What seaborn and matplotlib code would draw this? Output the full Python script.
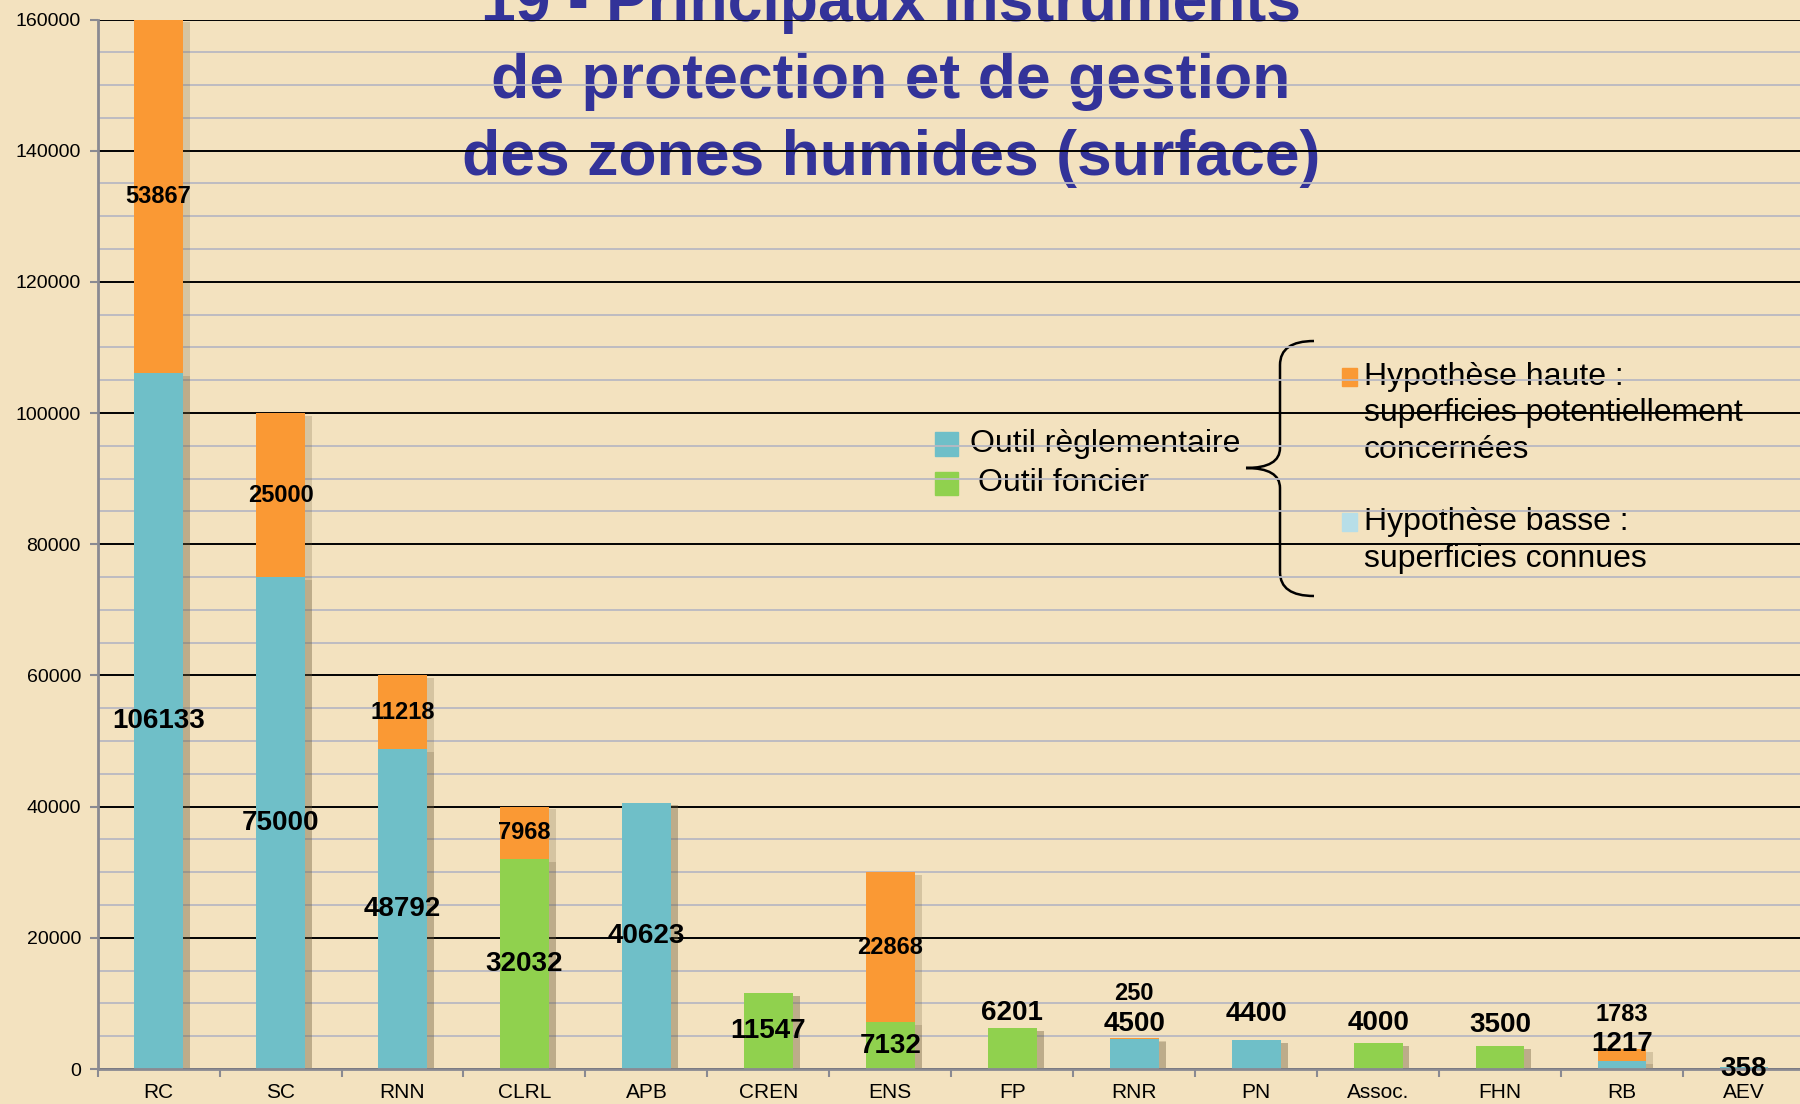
import matplotlib
matplotlib.use('Agg')
import matplotlib.pyplot as plt
import matplotlib.patheffects as pe
from matplotlib.patches import Rectangle, PathPatch
from matplotlib.path import Path
from matplotlib.ticker import MultipleLocator, FuncFormatter
import seaborn as sns

# données
categories = ['RC', 'SC', 'RNN', 'CLRL', 'APB', 'CREN', 'ENS', 'FP', 'RNR', 'PN',
              'Assoc.', 'FHN', 'RB', 'AEV']
basse = [106133, 75000, 48792, 32032, 40623, 11547, 7132, 6201, 4500, 4400,
         4000, 3500, 1217, 358]
haute = [53867, 25000, 11218, 7968, 0, 0, 22868, 0, 250, 0, 0, 0, 1783, 0]
outil = ['règlementaire', 'règlementaire', 'règlementaire', 'foncier', 'règlementaire',
         'foncier', 'foncier', 'foncier', 'règlementaire', 'règlementaire',
         'foncier', 'foncier', 'règlementaire', 'règlementaire']
title_lines = ['19 - Principaux instruments', 'de protection et de gestion',
               'des zones humides (surface)']

total = [b + h for b, h in zip(basse, haute)]

TEAL = '#6fbfc8'
GREEN = '#90d14e'
ORANGE = '#fa9934'
LIGHT = '#b7dee8'
BG = '#f3e2bf'
TITLE = '#333399'

plt.rcParams['font.family'] = ['Liberation Sans', 'DejaVu Sans']

W, H = 1800, 1104
fig = plt.figure(figsize=(18, 11.04), dpi=100, facecolor=BG)


def F(x, y):
    return (x / W, 1 - y / H)


ax = fig.add_axes([97.6 / W, 1 - 1069 / H, (1805 - 97.6) / W, (1069 - 19.5) / H])
ax.set_facecolor('none')

sns.barplot(x=categories, y=total, color=ORANGE, width=0.4, saturation=1, ax=ax)
sns.barplot(x=categories, y=basse, hue=outil, dodge=False, width=0.4, saturation=1,
            palette={'règlementaire': TEAL, 'foncier': GREEN}, legend=False, ax=ax)

for p in ax.patches:
    p.set_path_effects([pe.SimplePatchShadow(offset=(5, -2), shadow_rgbFace='#6b5a3a',
                                             alpha=0.22), pe.Normal()])

ax.set_xlim(-0.5, 13.5)
ax.set_ylim(0, 160000)
ax.set_xlabel('')
ax.set_ylabel('')

ax.set_axisbelow(True)
ax.yaxis.set_major_locator(MultipleLocator(20000))
ax.yaxis.set_minor_locator(MultipleLocator(5000))
ax.yaxis.set_major_formatter(FuncFormatter(lambda v, _: f'{int(v)}'))
ax.grid(which='minor', axis='y', color='#b9b9c2', lw=1.3)
ax.grid(which='major', axis='y', color='black', lw=1.4)
ax.grid(which='both', axis='x', visible=False)

ax.set_xticks([i + 0.5 for i in range(-1, 14)], minor=True)
ax.tick_params(axis='x', which='major', length=0, pad=10, labelsize=15)
ax.tick_params(axis='x', which='minor', length=6, width=1.5, color='#8a8a92')
ax.tick_params(axis='y', which='major', length=6, width=1.5, color='#8a8a92',
               pad=6, labelsize=14)
ax.tick_params(axis='y', which='minor', length=0)
for s in ['top', 'right']:
    ax.spines[s].set_visible(False)
for s in ['left', 'bottom']:
    ax.spines[s].set_color('#8a8a92')
    ax.spines[s].set_linewidth(2)

# étiquettes de valeurs
gap_low = [0, 0, 0, 0, 0, 0, 0, 15, 14, 26, 20, 21, 5, -2]
for i, cat in enumerate(categories):
    if total[i] >= 10000:
        ax.text(i, basse[i] / 2, str(basse[i]), ha='center', va='center',
                fontsize=20, fontweight='bold', zorder=5)
        if haute[i]:
            ax.text(i, basse[i] + haute[i] / 2, str(haute[i]), ha='center', va='center',
                    fontsize=17, fontweight='bold', zorder=5)
    else:
        ax.annotate(str(basse[i]), (i, total[i]), xytext=(0, gap_low[i]),
                    textcoords='offset pixels', ha='center', va='center',
                    fontsize=20, fontweight='bold', zorder=5)
        if haute[i]:
            ax.annotate(str(haute[i]), (i, total[i]), xytext=(0, gap_low[i] + 30),
                        textcoords='offset pixels', ha='center', va='center',
                        fontsize=17, fontweight='bold', zorder=5)

# titre (sous le quadrillage)
for k, line in enumerate(title_lines):
    fig.text(*F(891, 21 + 77 * k), line, ha='center', va='baseline', fontsize=45,
             fontweight='bold', color=TITLE, zorder=-1)

# légende
def square(x, y, w, h, c):
    fig.add_artist(Rectangle(F(x - w / 2, y + h / 2), w / W, h / H,
                             transform=fig.transFigure, color=c, zorder=-1))

square(946, 444, 23, 23, TEAL)
fig.text(*F(970, 444), 'Outil règlementaire', ha='left', va='center', fontsize=23, zorder=-1)
square(946, 483, 23, 23, GREEN)
fig.text(*F(978, 483), 'Outil foncier', ha='left', va='center', fontsize=23, zorder=-1)

square(1349, 377, 15, 18, ORANGE)
for k, line in enumerate(['Hypothèse haute :', 'superficies potentiellement', 'concernées']):
    fig.text(*F(1364, 377 + 36.5 * k), line, ha='left', va='center', fontsize=23, zorder=-1)
square(1349, 522, 15, 18, LIGHT)
for k, line in enumerate(['Hypothèse basse :', 'superficies connues']):
    fig.text(*F(1364, 522 + 36.5 * k), line, ha='left', va='center', fontsize=23, zorder=-1)

pts = [(1314, 341), (1280, 341), (1280, 365), (1280, 448), (1280, 468), (1246, 468),
       (1280, 468), (1280, 488), (1280, 572), (1280, 596), (1314, 596)]
codes = [Path.MOVETO, Path.CURVE3, Path.CURVE3, Path.LINETO, Path.CURVE3, Path.CURVE3,
         Path.CURVE3, Path.CURVE3, Path.LINETO, Path.CURVE3, Path.CURVE3]
brace = Path([F(x, y) for x, y in pts], codes)
fig.add_artist(PathPatch(brace, transform=fig.transFigure, fill=False, lw=1.8,
                         edgecolor='black', zorder=-1))

fig.savefig('out.png', dpi=100, facecolor=BG)
